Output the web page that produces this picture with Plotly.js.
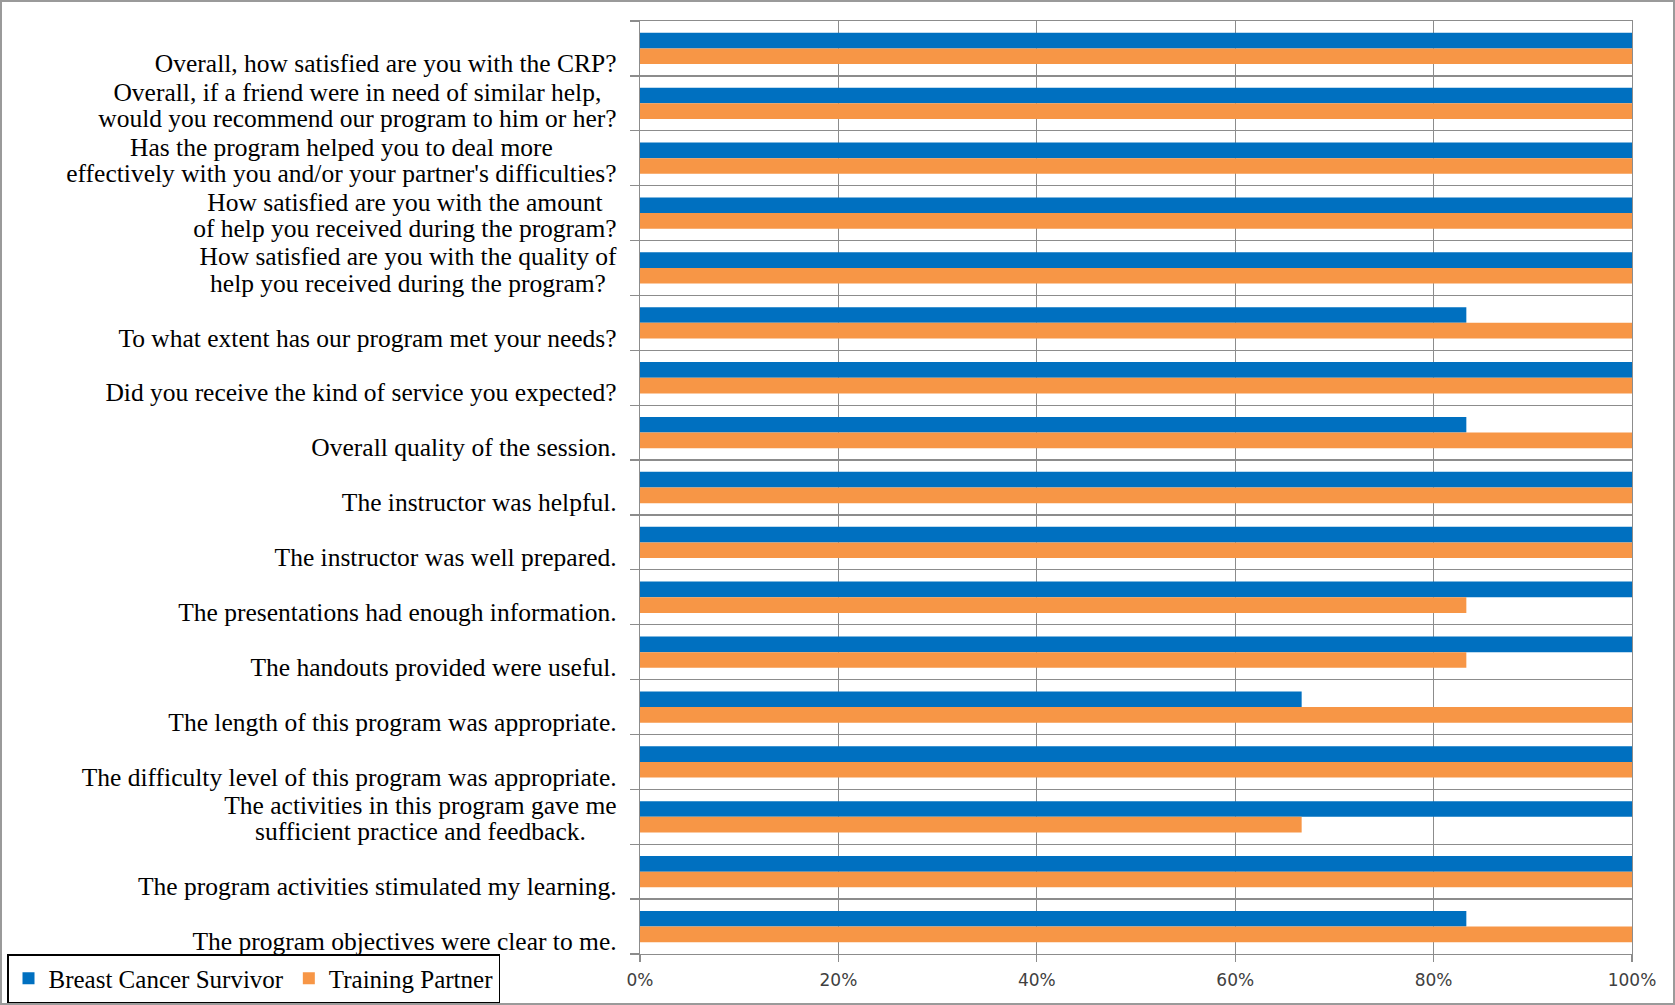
<!DOCTYPE html>
<html>
<head>
<meta charset="utf-8">
<script src="https://cdn.plot.ly/plotly-3.0.1.min.js"></script>
<style>
  html, body { margin: 0; padding: 0; background: #fff; }
  #wrap { position: relative; width: 1675px; height: 1005px; }
  #chart { width: 1675px; height: 1005px; }
  #frame { position: absolute; left: 0; top: 0; width: 1675px; height: 1005px;
           box-sizing: border-box; border: 2px solid #9a9a9a; pointer-events: none; z-index: 50; }
</style>
</head>
<body>
<div id="wrap"><div id="chart"></div><div id="frame"></div></div>
<script>
// Categories, listed top to bottom as in the chart
const categories = [
  "Overall, how satisfied are you with the CRP?",
  "Overall, if a friend were in need of similar help,<br>would you recommend our program to him or her?",
  "Has the program helped you to deal more<br>effectively with you and/or your partner's difficulties?",
  "How satisfied are you with the amount<br>of help you received during the program?",
  "How satisfied are you with the quality of<br>help you received during the program?",
  "To what extent has our program met your needs?",
  "Did you receive the kind of service you expected?",
  "Overall quality of the session.",
  "The instructor was helpful.",
  "The instructor was well prepared.",
  "The presentations had enough information.",
  "The handouts provided were useful.",
  "The length of this program was appropriate.",
  "The difficulty level of this program was appropriate.",
  "The activities in this program gave me<br>sufficient practice and feedback.",
  "The program activities stimulated my learning.",
  "The program objectives were clear to me."
];

const seriesNames = ["Breast Cancer Survivor", "Training Partner"];

const survivorValues = [1, 1, 1, 1, 1, 0.833, 1, 0.833, 1, 1, 1, 1, 0.667, 1, 1, 1, 0.833];
const partnerValues  = [1, 1, 1, 1, 1, 1, 1, 1, 1, 1, 0.833, 0.833, 1, 1, 0.667, 1, 1];

const xTickVals = [0, 0.2, 0.4, 0.6, 0.8, 1];
const xTickText = ["0%", "20%", "40%", "60%", "80%", "100%"];

// Excel places single-line labels on the lower line of a two-line slot
const tickLabels = categories.map(c => c.indexOf("<br>") === -1 ? "<br>" + c : c);

const gridCol = "#8c8c8c";

const traces = [
  {
    type: "bar", orientation: "h", name: seriesNames[0],
    y: categories, x: survivorValues,
    marker: { color: "#0070C0", line: { width: 0 } },
    hoverinfo: "x+y"
  },
  {
    type: "bar", orientation: "h", name: seriesNames[1],
    y: categories, x: partnerValues,
    marker: { color: "#F79646", line: { width: 0 } },
    hoverinfo: "x+y"
  }
];

const layout = {
  width: 1675, height: 1005,
  margin: { l: 640, r: 43, t: 21, b: 51, pad: 0 },
  paper_bgcolor: "#ffffff",
  plot_bgcolor: "#ffffff",
  barmode: "group",
  bargap: 0.43,
  bargroupgap: 0,
  showlegend: true,
  legend: {
    orientation: "h",
    xref: "container", yref: "container",
    x: 7 / 1675, xanchor: "left",
    y: 1 - 954 / 1005, yanchor: "top",
    bordercolor: "#000000", borderwidth: 1.5,
    bgcolor: "#ffffff",
    font: { family: "Liberation Serif, Times New Roman, serif", size: 25, color: "#000000" },
    traceorder: "normal"
  },
  xaxis: {
    range: [0, 1],
    tickvals: xTickVals, ticktext: xTickText,
    showgrid: true, gridcolor: gridCol, gridwidth: 1.3,
    zeroline: false,
    showline: true, linecolor: gridCol, linewidth: 1.3, mirror: true,
    ticks: "outside", ticklen: 7, tickcolor: gridCol, tickwidth: 1.3,
    ticklabelstandoff: 3,
    tickfont: { family: "DejaVu Sans, Verdana, sans-serif", size: 17, color: "#404040" },
    fixedrange: true
  },
  yaxis: {
    type: "category",
    autorange: "reversed",
    categoryorder: "array", categoryarray: categories,
    tickvals: categories, ticktext: tickLabels,
    tickson: "boundaries",
    showgrid: true, gridcolor: gridCol, gridwidth: 1.3,
    showline: true, linecolor: gridCol, linewidth: 1.3, mirror: true,
    ticks: "outside", ticklen: 9, tickcolor: gridCol, tickwidth: 1.3,
    ticklabelstandoff: 17,
    tickfont: { family: "Liberation Serif, Times New Roman, serif", size: 25.5, color: "#000000" },
    fixedrange: true
  },
  font: { family: "Liberation Serif, Times New Roman, serif", color: "#000000" }
};

// Tighten and centre two-line category labels (Excel style)
function styleLabels() {
  document.querySelectorAll("#chart .ytick text").forEach(t => {
    if (t.getAttribute("data-tight") === "1") return;
    const lines = Array.from(t.querySelectorAll("tspan.line"));
    if (lines.length < 2) return;
    t.setAttribute("data-tight", "1");
    const last = lines[lines.length - 1];
    const dyL = parseFloat(last.getAttribute("dy") || "0") || 0;
    last.setAttribute("dy", (dyL - 0.07) + "em");
    if (!lines[0].textContent.trim()) return;
    const dy0 = parseFloat(lines[0].getAttribute("dy") || "0") || 0;
    lines[0].setAttribute("dy", (dy0 + 0.2) + "em");
    const widths = lines.map(l => l.getComputedTextLength());
    const W = Math.max.apply(null, widths);
    lines.forEach((l, i) => l.setAttribute("dx", (-(W - widths[i]) / 2).toFixed(1)));
  });
}

const gd = document.getElementById("chart");
Plotly.newPlot(gd, traces, layout, { displayModeBar: false, staticPlot: true }).then(() => {
  styleLabels();
  gd.on("plotly_afterplot", styleLabels);
});
</script>
</body>
</html>
